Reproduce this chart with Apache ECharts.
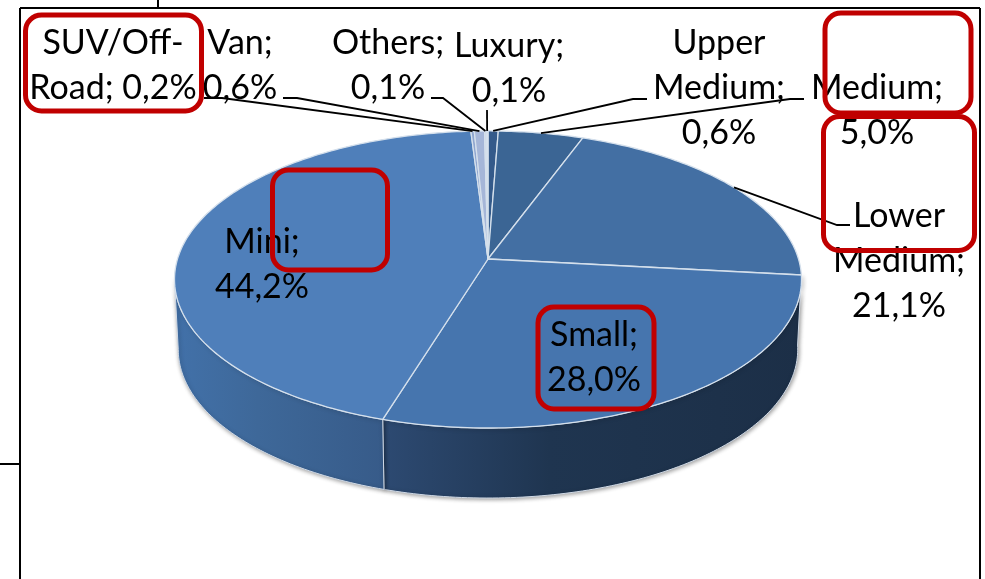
<!DOCTYPE html>
<html>
<head>
<meta charset="utf-8" />
<style>
  html, body { margin: 0; padding: 0; background: #fff; }
  #chart { width: 985px; height: 579px; }
</style>
<script src="https://cdn.jsdelivr.net/npm/echarts@6/dist/echarts.min.js"></script>
</head>
<body>
<div id="chart"></div>
<script>
// clockwise from 12 o'clock, same order as the original sheet
const categories = ["Upper Medium", "Medium", "Lower Medium", "Small", "Mini", "SUV/Off-Road", "Van", "Others", "Luxury"];
const shares = [0.6, 5.0, 21.1, 28.0, 44.2, 0.2, 0.6, 0.1, 0.1];
const labelTexts = [
  "Upper\nMedium;\n0,6%",
  "Medium;\n5,0%",
  "Lower\nMedium;\n21,1%",
  "Small;\n28,0%",
  "Mini;\n44,2%",
  "SUV/Off-\nRoad; 0,2%",
  "Van;\n0,6%",
  "Others;\n0,1%",
  "Luxury;\n0,1%",
];

// styles and layout
const topColors = ["#345a8a", "#3b6594", "#436fa3", "#4675ae", "#4f7fba", "#8fa6cf", "#a5b6d8", "#c3d0e6", "#dfe6f2"];
const wallStops = {
  3: ["#2d4a72", "#1f3550", "#1c2f47"],
  4: ["#4271a9", "#3e6899", "#375b89"],
};
// centre x, first line y of each label
const labelPos = [[719, 43], [877, 88], [899, 216], [594, 335], [262, 242], [113, 43], [240, 43], [388, 43], [509, 46]];
// elbow of the leader line: [label end x, y, knee x], null = no leader
const leaders = [[647, 99, 633], [804, 99, 790], [850, 225, 837], null, null, [204, 98, 222], [283, 98, 297], [431, 98, 443], [487, 110, 487]];

// tilted disc with perspective
const apex = { x: 488, y: 259 };
const A = 310.5;
const B = 145.7;
const K = 0.138;
const DEPTH = 70;
const BOTTOM_SCALE = 0.988;
const WALL_FROM = 96;
const WALL_TO = 262;

const total = shares.reduce((a, b) => a + b, 0);
const startDeg = [];
shares.reduce((acc, v, i) => {
  startDeg[i] = (acc / total) * 360;
  return acc + v;
}, 0);

function rim(deg) {
  const t = (deg * Math.PI) / 180;
  const u = Math.sin(t);
  const v = Math.cos(t);
  const w = 1 + K * v;
  return [apex.x + (A * u) / w, apex.y - (B * v) / w];
}
function rimBottom(deg) {
  const p = rim(deg);
  return [apex.x + (p[0] - apex.x) * BOTTOM_SCALE, p[1] + DEPTH];
}
function arc(from, to, fn) {
  const pts = [];
  const n = Math.max(2, Math.ceil(Math.abs(to - from)) + 1);
  for (let i = 0; i <= n; i++) {
    pts.push(fn(from + ((to - from) * i) / n));
  }
  return pts;
}

function renderSlice(params, api) {
  const i = api.value(0);
  const from = startDeg[i];
  const to = from + (api.value(1) / total) * 360;
  const children = [];

  // side wall, only the part that faces us
  const wFrom = Math.max(from, WALL_FROM);
  const wTo = Math.min(to, WALL_TO);
  if (wTo > wFrom && wallStops[i]) {
    const s = wallStops[i];
    children.push({
      type: "polygon",
      z2: 1,
      shape: { points: arc(wFrom, wTo, rim).concat(arc(wTo, wFrom, rimBottom)) },
      style: {
        fill: new echarts.graphic.LinearGradient(0, 0, 1, 0, [
          { offset: 0, color: s[0] },
          { offset: 0.4, color: s[1] },
          { offset: 1, color: s[2] },
        ]),
        stroke: "#cfd9e6",
        lineWidth: 1,
        shadowColor: "rgba(0,0,0,0.4)",
        shadowBlur: 4,
        shadowOffsetX: 1,
        shadowOffsetY: 1,
      },
    });
  }

  // top face
  children.push({
    type: "polygon",
    z2: 2,
    shape: { points: [[apex.x, apex.y]].concat(arc(from, to, rim)) },
    style: {
      fill: topColors[i],
      stroke: "#d5e0ec",
      lineWidth: 1.3,
      lineJoin: "round",
    },
  });

  // leader line to the middle of the slice
  const lead = leaders[i];
  if (lead) {
    children.push({
      type: "polyline",
      z2: 3,
      shape: { points: [[lead[0], lead[1]], [lead[2], lead[1]], rim((from + to) / 2)] },
      style: { fill: null, stroke: "#000", lineWidth: 1.8 },
    });
  }

  // label
  children.push({
    type: "text",
    z2: 4,
    style: {
      text: labelTexts[i],
      x: labelPos[i][0],
      y: labelPos[i][1] - 22,
      align: "center",
      verticalAlign: "top",
      fontFamily: "Lato",
      fontSize: 34,
      lineHeight: 45,
      fill: "#000",
    },
  });

  return { type: "group", children };
}

function redBox(x1, y1, x2, y2) {
  return {
    type: "rect",
    z: 100,
    shape: { x: x1, y: y1, width: x2 - x1, height: y2 - y1, r: 16 },
    style: { fill: null, stroke: "#c00000", lineWidth: 5 },
  };
}
function blackLine(x1, y1, x2, y2) {
  return {
    type: "line",
    z: 90,
    shape: { x1, y1, x2, y2 },
    style: { stroke: "#000", lineWidth: 2 },
  };
}

const myChart = echarts.init(document.getElementById("chart"), null, { renderer: "canvas" });
myChart.setOption({
  animation: false,
  backgroundColor: "#fff",
  series: [
    {
      type: "custom",
      coordinateSystem: "none",
      silent: true,
      renderItem: renderSlice,
      encode: { itemName: 2 },
      data: shares.map((v, i) => [i, v, categories[i]]),
    },
  ],
  graphic: {
    elements: [
      blackLine(20, 8, 980, 8),
      blackLine(20, 8, 20, 579),
      blackLine(980, 8, 980, 579),
      blackLine(158, 0, 158, 8),
      blackLine(0, 464, 20, 464),
      redBox(25.5, 15, 201.5, 111),
      redBox(272.5, 170, 387.5, 270),
      redBox(825, 13, 971, 113),
      redBox(823.5, 116.5, 974.5, 250.5),
      redBox(538, 307, 654, 409),
    ],
  },
});
</script>
</body>
</html>
